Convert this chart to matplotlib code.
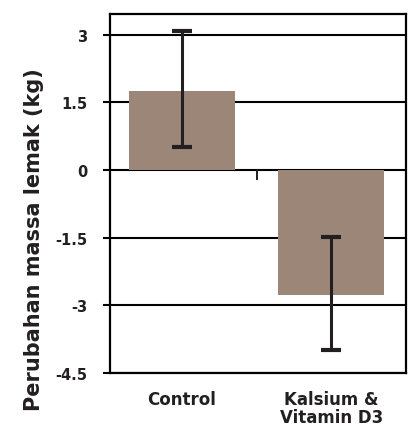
import matplotlib
matplotlib.use("Agg")
import matplotlib.pyplot as plt

# 値は図から読み取ったもの
groups = ["Control", "Kalsium &\nVitamin D3"]
change_kg = [1.76, -2.76]
err_low = [1.25, 1.23]
err_high = [1.32, 1.28]
y_ticks = [3, 1.5, 0, -1.5, -3, -4.5]
y_tick_labels = ["3", "1.5", "0", "-1.5", "-3", "-4.5"]

BAR_COLOR = "#9c8678"
INK = "#231f20"

plt.rcParams["font.family"] = ["DejaVu Sans"]
plt.rcParams["font.weight"] = "bold"

fig = plt.figure(figsize=(4.09, 4.27), dpi=100)
ax = fig.add_axes([0.269, 0.124, 0.724, 0.841])

x = list(range(len(groups)))
ax.bar(x, change_kg, width=0.71, color=BAR_COLOR, zorder=2)
ax.errorbar(x, change_kg, yerr=[err_low, err_high], fmt="none",
            ecolor=INK, elinewidth=2.2, capsize=7.5, capthick=3.0, zorder=3)

for y in y_ticks:
    ax.axhline(y, color="black", lw=1.5, zorder=1)
# 0 の線の下にある小さな目盛り(カテゴリの境目)
ax.vlines(0.5, -0.22, 0, color=INK, lw=1.4, zorder=3)

ax.set_xlim(-0.483, 1.503)
ax.set_ylim(-4.45, 3.46)
ax.set_yticks(y_ticks)
ax.set_yticklabels(y_tick_labels, fontsize=10.5, fontweight="bold", color=INK)
ax.tick_params(axis="y", length=5, width=1.5, pad=11.5, color="black")
ax.set_xticks(x)
ax.set_xticklabels(groups, fontsize=12, fontweight="bold", color=INK,
                   linespacing=1.0)
ax.tick_params(axis="x", length=0, pad=12)
for s in ax.spines.values():
    s.set_linewidth(1.6)
    s.set_color("black")
ax.set_ylabel("Perubahan massa lemak (kg)", fontsize=15, fontweight="bold",
              color=INK)
ax.yaxis.set_label_coords(-0.223, 0.373)

fig.savefig("out.png", dpi=100)
